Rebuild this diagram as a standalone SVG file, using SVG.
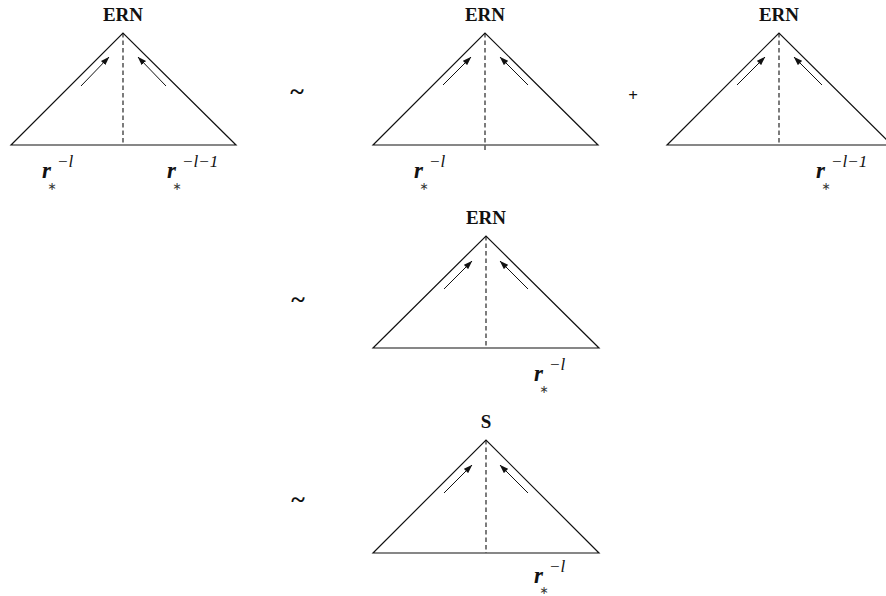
<svg xmlns="http://www.w3.org/2000/svg" width="886" height="596" viewBox="0 0 886 596">
<defs>
<style>
.side{fill:none;stroke:#111;stroke-width:1.2}
.dash{fill:none;stroke:#111;stroke-width:1.1;stroke-dasharray:4.5,3}
.arr{fill:none;stroke:#111;stroke-width:1;marker-end:url(#ah)}
.title{font-family:"Liberation Serif",serif;font-weight:bold;font-size:19px;fill:#111;text-anchor:middle}
.r{font-family:"Liberation Serif",serif;font-weight:bold;font-style:italic;font-size:23px;fill:#111}
.sup{font-family:"Liberation Serif",serif;font-style:italic;font-size:17px;fill:#111}
.star{font-family:"DejaVu Sans",sans-serif;font-size:11px;fill:#333;text-anchor:middle}
.op{font-family:"Liberation Serif",serif;font-weight:bold;font-size:26px;fill:#111;text-anchor:middle}
.plus{font-family:"Liberation Serif",serif;font-weight:bold;font-size:17px;fill:#111;text-anchor:middle}
</style>
<marker id="ah" markerWidth="9" markerHeight="6" refX="8.5" refY="3" orient="auto" markerUnits="userSpaceOnUse">
<path d="M0,0 L9,3 L0,6 z" fill="#111"/>
</marker>
</defs>

<g id="tri1" transform="translate(123,33)">
<path class="side" d="M-112,112 L0,0 L113,112 Z"/>
<line class="dash" x1="0" y1="0" x2="0" y2="112"/>
<line class="arr" x1="-42" y1="53" x2="-14" y2="24"/>
<line class="arr" x1="43" y1="53" x2="15" y2="24"/>
<text class="title" x="0" y="-12">ERN</text>
<text class="r" x="-81" y="145">r</text>
<text class="star" x="-71" y="157">∗</text>
<text class="sup" x="-66" y="134">−l</text>
<text class="r" x="44" y="145">r</text>
<text class="star" x="54" y="157">∗</text>
<text class="sup" x="59" y="134">−l−1</text>
</g>

<text id="op1" class="op" x="297" y="100">~</text>

<g id="tri2" transform="translate(485,33)">
<path class="side" d="M-112,112 L0,0 L113,112 Z"/>
<line class="dash" x1="0" y1="0" x2="0" y2="117"/>
<line class="arr" x1="-42" y1="52" x2="-14" y2="24"/>
<line class="arr" x1="43" y1="52" x2="15" y2="24"/>
<text class="title" x="0" y="-12">ERN</text>
<text class="r" x="-71" y="145">r</text>
<text class="star" x="-61" y="157">∗</text>
<text class="sup" x="-56" y="134">−l</text>
</g>

<text id="op2" class="plus" x="633" y="101">+</text>

<g id="tri3" transform="translate(779,33)">
<path class="side" d="M-112,112 L0,0 L113,112 Z"/>
<line class="dash" x1="0" y1="0" x2="0" y2="112"/>
<line class="arr" x1="-42" y1="52" x2="-14" y2="24"/>
<line class="arr" x1="43" y1="52" x2="15" y2="24"/>
<text class="title" x="0" y="-12">ERN</text>
<text class="r" x="37" y="145">r</text>
<text class="star" x="47" y="157">∗</text>
<text class="sup" x="52" y="134">−l−1</text>
</g>

<text id="op3" class="op" x="298" y="308">~</text>

<g id="tri4" transform="translate(486,236)">
<path class="side" d="M-113,112 L0,0 L113,112 Z"/>
<line class="dash" x1="0" y1="0" x2="0" y2="112"/>
<line class="arr" x1="-42" y1="53" x2="-14" y2="25"/>
<line class="arr" x1="42" y1="53" x2="14" y2="25"/>
<text class="title" x="0" y="-12">ERN</text>
<text class="r" x="48" y="145">r</text>
<text class="star" x="58" y="157">∗</text>
<text class="sup" x="63" y="134">−l</text>
</g>

<text id="op4" class="op" x="298" y="508">~</text>

<g id="tri5" transform="translate(486,440)">
<path class="side" d="M-113,113 L0,0 L113,113 Z"/>
<line class="dash" x1="0" y1="0" x2="0" y2="113"/>
<line class="arr" x1="-42" y1="53" x2="-14" y2="25"/>
<line class="arr" x1="42" y1="53" x2="14" y2="25"/>
<text class="title" x="0" y="-12">S</text>
<text class="r" x="48" y="143">r</text>
<text class="star" x="58" y="154">∗</text>
<text class="sup" x="63" y="132">−l</text>
</g>
</svg>
